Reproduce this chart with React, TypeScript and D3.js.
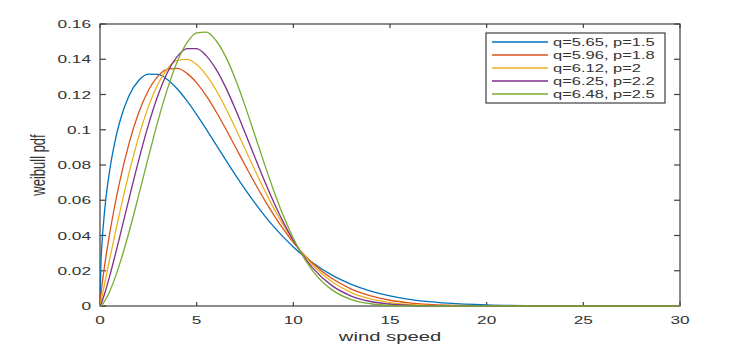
import React from "react";
import * as d3 from "d3";

// wind speed samples (x) and pdf values
const speeds = [0, 0.05, 0.1, 0.25, 0.5, 0.75, 1, 1.5, 2, 2.5, 3, 3.5, 4, 4.5, 5, 5.5, 6, 6.5, 7, 7.5, 8, 8.5, 9, 9.5, 10, 11, 12, 13, 14, 15, 16, 17, 18, 20, 22, 25, 30];

const pdfA = [0, 0.02495, 0.03524, 0.05533, 0.07693, 0.09216, 0.10368, 0.11931, 0.12796, 0.13157, 0.13139, 0.12833, 0.12313, 0.1164, 0.10863, 0.10025, 0.09158, 0.08291, 0.07442, 0.06628, 0.05859, 0.05145, 0.04488, 0.03891, 0.03352, 0.02449, 0.01751, 0.01228, 0.00845, 0.00572, 0.00381, 0.00249, 0.00161, 0.00064, 0.00024, 0.00005, 0];
const pdfB = [0, 0.00659, 0.01147, 0.02381, 0.04111, 0.05617, 0.06956, 0.09214, 0.1096, 0.12226, 0.1304, 0.13442, 0.13478, 0.13198, 0.12659, 0.1192, 0.11035, 0.10057, 0.09032, 0.07999, 0.06991, 0.06032, 0.05143, 0.04333, 0.03609, 0.02422, 0.01558, 0.00962, 0.00571, 0.00326, 0.0018, 0.00095, 0.00049, 0.00012, 0.00002, 0, 0];
const pdfC = [0, 0.00267, 0.00534, 0.01333, 0.02652, 0.03945, 0.05199, 0.07543, 0.09598, 0.11298, 0.12598, 0.13476, 0.13934, 0.13994, 0.13697, 0.13096, 0.12253, 0.11234, 0.10103, 0.0892, 0.07736, 0.06595, 0.05528, 0.04558, 0.03698, 0.02323, 0.01371, 0.00762, 0.00399, 0.00197, 0.00092, 0.00041, 0.00017, 0.00002, 0, 0, 0];
const pdfD = [0, 0.00107, 0.00246, 0.00739, 0.01693, 0.02738, 0.03835, 0.06081, 0.08266, 0.1026, 0.11957, 0.13277, 0.14166, 0.14606, 0.14603, 0.14194, 0.13436, 0.12404, 0.11177, 0.09839, 0.08465, 0.07122, 0.0586, 0.04718, 0.03716, 0.02162, 0.01155, 0.00566, 0.00255, 0.00105, 0.0004, 0.00014, 0.00004, 0, 0, 0, 0];
const pdfE = [0, 0.00026, 0.00074, 0.00292, 0.00826, 0.01512, 0.02317, 0.04187, 0.06274, 0.08429, 0.10504, 0.12359, 0.13869, 0.14938, 0.155, 0.15535, 0.15064, 0.14149, 0.12879, 0.11369, 0.0973, 0.08077, 0.06502, 0.05075, 0.03839, 0.01998, 0.00914, 0.00367, 0.00128, 0.00039, 0.0001, 0.00002, 0, 0, 0, 0, 0];

const seriesNames = ["q=5.65, p=1.5", "q=5.96, p=1.8", "q=6.12, p=2", "q=6.25, p=2.2", "q=6.48, p=2.5"];
const seriesColors = ["#0072BD", "#D95319", "#EDB120", "#7E2F8E", "#77AC30"];
const allSeries = [pdfA, pdfB, pdfC, pdfD, pdfE];

const W = 749, H = 362;
const left = 100, right = 680, top = 24, bottom = 306;
const sx = 1.5; // the picture is stretched sideways
const font = "'Liberation Sans', Arial, Helvetica, sans-serif";
const axisColor = "#404040";
const textColor = "#333333";

export default function App() {
  const x = d3.scaleLinear().domain([0, 30]).range([left, right]);
  const y = d3.scaleLinear().domain([0, 0.16]).range([bottom, top]);

  const line = d3.line<number>()
    .x((d, i) => x(speeds[i]))
    .y((d) => y(d))
    .curve(d3.curveMonotoneX);

  const xTicks = x.ticks(6);
  const yTicks = y.ticks(8);

  return (
    <svg width={W} height={H} style={{ position: "absolute", left: 0, top: 0, background: "#fff" }}>
      {/* axes box */}
      <rect x={left} y={top} width={right - left} height={bottom - top} fill="#fff" stroke={axisColor} strokeWidth={1.2} />

      {xTicks.map((t) => (
        <g key={"x" + t}>
          <line x1={x(t)} x2={x(t)} y1={bottom} y2={bottom - 4} stroke={axisColor} strokeWidth={1.2} />
          <line x1={x(t)} x2={x(t)} y1={top} y2={top + 4} stroke={axisColor} strokeWidth={1.2} />
          <text transform={`translate(${x(t)},${bottom + 18}) scale(${sx},1)`} textAnchor="middle"
            fontFamily={font} fontSize={11.5} fill={textColor}>{t}</text>
        </g>
      ))}

      {yTicks.map((t) => (
        <g key={"y" + t}>
          <line x1={left} x2={left + 6} y1={y(t)} y2={y(t)} stroke={axisColor} strokeWidth={1.2} />
          <line x1={right} x2={right - 6} y1={y(t)} y2={y(t)} stroke={axisColor} strokeWidth={1.2} />
          <text transform={`translate(${left - 9},${y(t) + 4}) scale(${sx},1)`} textAnchor="end"
            fontFamily={font} fontSize={11.5} fill={textColor}>{String(+t.toFixed(2))}</text>
        </g>
      ))}

      {/* curves */}
      {allSeries.map((s, i) => (
        <path key={seriesNames[i]} d={line(s) || ""} fill="none" stroke={seriesColors[i]} strokeWidth={1.3} />
      ))}

      {/* axis labels */}
      <text transform={`translate(${(left + right) / 2},${bottom + 35}) scale(${sx},1)`} textAnchor="middle"
        fontFamily={font} fontSize={13.5} fill={textColor}>wind speed</text>
      <text transform={`translate(45,${(top + bottom) / 2}) scale(${sx},1) rotate(-90)`} textAnchor="middle"
        fontFamily={font} fontSize={13} fill={textColor}>weibull pdf</text>

      {/* legend */}
      <g>
        <rect x={486} y={33} width={179} height={70} fill="#fff" stroke={axisColor} strokeWidth={1.2} />
        {seriesNames.map((name, i) => (
          <g key={"lg" + i}>
            <line x1={492} x2={548} y1={42 + i * 13} y2={42 + i * 13} stroke={seriesColors[i]} strokeWidth={1.3} />
            <text transform={`translate(553,${42 + i * 13 + 4}) scale(${sx},1)`} fontFamily={font}
              fontSize={11} fill={textColor}>{name}</text>
          </g>
        ))}
      </g>
    </svg>
  );
}
